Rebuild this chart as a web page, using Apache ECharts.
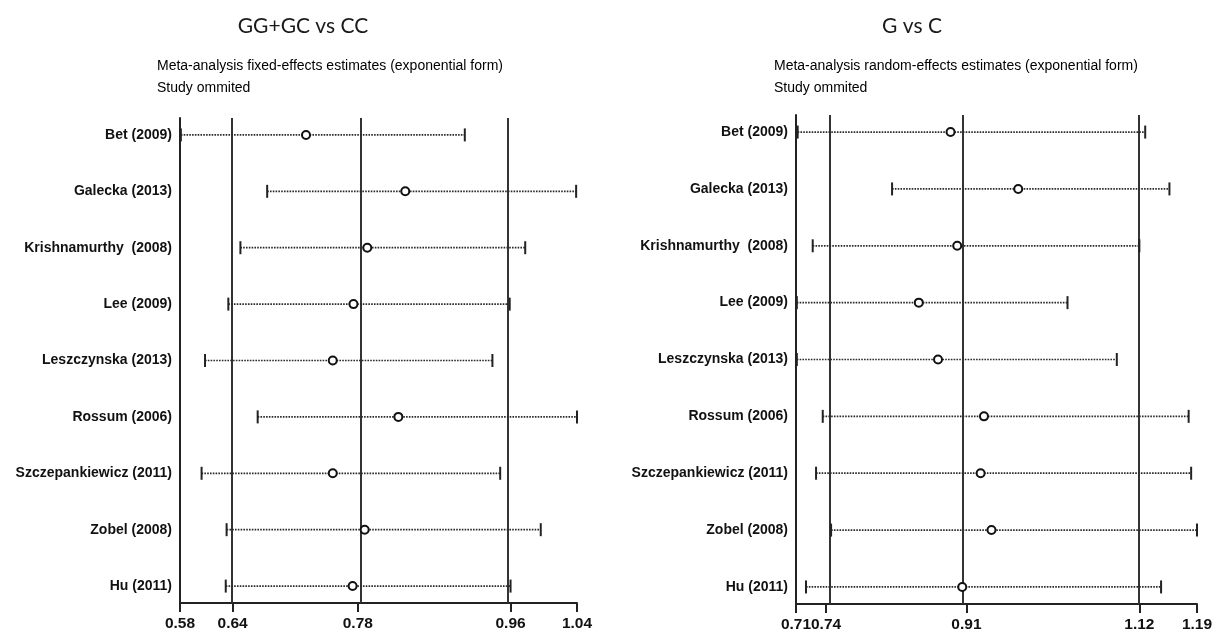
<!DOCTYPE html>
<html>
<head>
<meta charset="utf-8">
<script src="https://cdn.jsdelivr.net/npm/echarts@6/dist/echarts.min.js"></script>
<style>
  html, body { margin: 0; padding: 0; background: #ffffff; }
  #chart { width: 1225px; height: 638px; }
</style>
</head>
<body>
<div id="chart"></div>
<script>
// ---- Data ----
const studies = ["Bet (2009)", "Galecka (2013)", "Krishnamurthy  (2008)", "Lee (2009)", "Leszczynska (2013)",
                 "Rossum (2006)", "Szczepankiewicz (2011)", "Zobel (2008)", "Hu (2011)"];

// Left panel: GG+GC vs CC (fixed effects), study omitted
const leftEstimate = [0.726, 0.841, 0.797, 0.781, 0.757, 0.833, 0.757, 0.794, 0.780];
const leftLower    = [0.581, 0.681, 0.650, 0.636, 0.609, 0.670, 0.605, 0.634, 0.633];
const leftUpper    = [0.910, 1.039, 0.980, 0.962, 0.942, 1.040, 0.951, 0.998, 0.963];
const leftTickValues = [0.58, 0.641, 0.786, 0.963, 1.04];
const leftTickLabels = ["0.58", "0.64", "0.78", "0.96", "1.04"];
const leftRefLines   = [0.641, 0.786, 0.963];

// Right panel: G vs C (random effects), study omitted
const rightEstimate = [0.895, 0.976, 0.903, 0.857, 0.880, 0.935, 0.931, 0.944, 0.909];
const rightLower    = [0.712, 0.825, 0.730, 0.711, 0.711, 0.742, 0.734, 0.752, 0.722];
const rightUpper    = [1.128, 1.157, 1.121, 1.035, 1.094, 1.180, 1.183, 1.190, 1.147];
const rightTickValues = [0.71, 0.746, 0.914, 1.121, 1.19];
const rightTickLabels = ["0.71", "0.74", "0.91", "1.12", "1.19"];
const rightRefLines   = [0.746, 0.914, 1.121];

const panelTitles = ["GG+GC vs CC", "G vs C"];
const panelSubtitles = ["Meta-analysis fixed-effects estimates (exponential form)",
                        "Meta-analysis random-effects estimates (exponential form)"];
const subtitle2 = "Study ommited";

// ---- Chart ----
const chart = echarts.init(document.getElementById('chart'), null, { renderer: 'canvas' });
const labelFont = '"Liberation Sans", Arial, sans-serif';
const rowIdx = studies.map((_, i) => i);

function ciRender(params, api) {
  const y = api.value(2);
  const p1 = api.coord([api.value(0), y]);
  const p2 = api.coord([api.value(1), y]);
  const h = 6.5;
  return {
    type: 'group',
    children: [
      { type: 'line', shape: { x1: p1[0], y1: p1[1], x2: p2[0], y2: p2[1] },
        style: { stroke: '#2a2a2a', lineWidth: 1.7, lineDash: [1.6, 1.2] } },
      { type: 'line', shape: { x1: p1[0], y1: p1[1] - h, x2: p1[0], y2: p1[1] + h },
        style: { stroke: '#222', lineWidth: 2 } },
      { type: 'line', shape: { x1: p2[0], y1: p2[1] - h, x2: p2[0], y2: p2[1] + h },
        style: { stroke: '#222', lineWidth: 2 } }
    ]
  };
}

function makeXAxis(gridIndex, min, max, tickValues, tickLabels) {
  return {
    type: 'value', gridIndex, min, max,
    axisLine: { show: true, onZero: false, lineStyle: { color: '#222', width: 2 } },
    axisTick: { show: true, customValues: tickValues, length: 9, lineStyle: { color: '#222', width: 2 } },
    axisLabel: {
      customValues: tickValues,
      interval: 0,
      formatter: v => { const i = tickValues.indexOf(v); return i >= 0 ? tickLabels[i] : ''; },
      color: '#111', fontFamily: labelFont, fontSize: 15.5, fontWeight: 'bold', margin: 13,
      showMinLabel: true, showMaxLabel: true, hideOverlap: false
    },
    splitLine: { show: false }
  };
}

function makeYAxis(gridIndex) {
  return {
    type: 'value', gridIndex, inverse: true, min: -0.3, max: 8.3,
    axisLine: { show: true, onZero: false, lineStyle: { color: '#222', width: 2 } },
    axisTick: { show: false },
    axisLabel: {
      customValues: rowIdx,
      interval: 0,
      formatter: v => studies[Math.round(v)] || '',
      color: '#111', fontFamily: labelFont, fontSize: 14, fontWeight: 'bold', margin: 8
    },
    splitLine: { show: false }
  };
}

function panelSeries(idx, lower, upper, est, refLines) {
  return [
    {
      type: 'custom', xAxisIndex: idx, yAxisIndex: idx,
      renderItem: ciRender,
      encode: { x: [0, 1], y: 2 },
      data: lower.map((l, i) => [l, upper[i], i]),
      silent: true, z: 3
    },
    {
      type: 'scatter', xAxisIndex: idx, yAxisIndex: idx,
      data: est.map((e, i) => [e, i]),
      symbol: 'circle', symbolSize: 8,
      itemStyle: { color: '#ffffff', borderColor: '#111', borderWidth: 2, opacity: 1 },
      z: 4, silent: true,
      markLine: {
        silent: true, symbol: ['none', 'none'], label: { show: false },
        lineStyle: { color: '#333', width: 2, type: 'solid' },
        data: refLines.map(v => ({ xAxis: v })),
        z: 2
      }
    }
  ];
}

const titleFont = 'Lato, "Open Sans", "Noto Sans", sans-serif';
const subFont = '500 14px "Liberation Sans", Arial, sans-serif';
const option = {
  backgroundColor: '#ffffff',
  animation: false,
  grid: [
    { left: 180, right: 648, top: 118, bottom: 35, containLabel: false, outerBoundsMode: 'none' },
    { left: 796, right: 28, top: 115, bottom: 34, containLabel: false, outerBoundsMode: 'none' }
  ],
  xAxis: [
    makeXAxis(0, 0.58, 1.04, leftTickValues, leftTickLabels),
    makeXAxis(1, 0.71, 1.19, rightTickValues, rightTickLabels)
  ],
  yAxis: [makeYAxis(0), makeYAxis(1)],
  series: [
    ...panelSeries(0, leftLower, leftUpper, leftEstimate, leftRefLines),
    ...panelSeries(1, rightLower, rightUpper, rightEstimate, rightRefLines)
  ],
  graphic: [
    { type: 'text', x: 303, y: 26, style: { text: panelTitles[0], font: '21px ' + titleFont, fill: '#1a1a1a', textAlign: 'center', textVerticalAlign: 'middle' } },
    { type: 'text', x: 912, y: 26, style: { text: panelTitles[1], font: '21px ' + titleFont, fill: '#1a1a1a', textAlign: 'center', textVerticalAlign: 'middle' } },
    { type: 'text', x: 157, y: 66, style: { text: panelSubtitles[0], font: subFont, fill: '#000', textAlign: 'left', textVerticalAlign: 'middle' } },
    { type: 'text', x: 157, y: 88, style: { text: subtitle2, font: subFont, fill: '#000', textAlign: 'left', textVerticalAlign: 'middle' } },
    { type: 'text', x: 774, y: 66, style: { text: panelSubtitles[1], font: subFont, fill: '#000', textAlign: 'left', textVerticalAlign: 'middle' } },
    { type: 'text', x: 774, y: 88, style: { text: subtitle2, font: subFont, fill: '#000', textAlign: 'left', textVerticalAlign: 'middle' } }
  ]
};
chart.setOption(option);
</script>
</body>
</html>
